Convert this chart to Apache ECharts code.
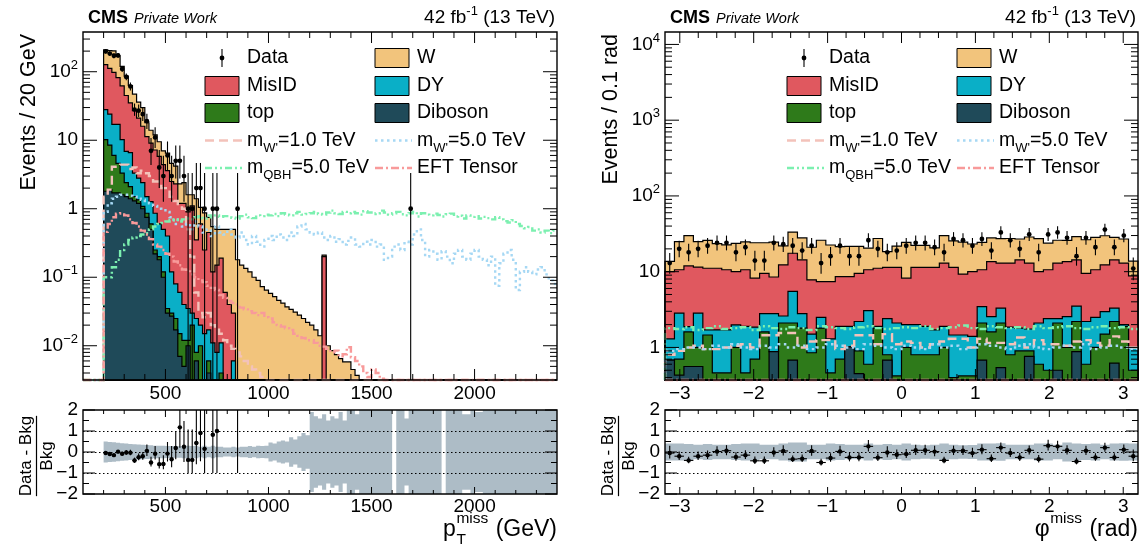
<!DOCTYPE html>
<html>
<head>
<meta charset="utf-8">
<title>Missing transverse momentum and azimuth</title>
<script src="https://cdn.jsdelivr.net/npm/echarts@6.0.0/dist/echarts.min.js"></script>
<style>
html, body { margin: 0; padding: 0; background: #ffffff; }
#chart { width: 1146px; height: 549px; }
</style>
</head>
<body>
<div id="chart"></div>
<script>
const FONT = 'Liberation Sans, Arial, Helvetica, sans-serif';

/* ---------- p_T^miss: 20 GeV bins starting at 200 GeV ---------- */
const ptBinStart = 200;
const ptBinWidth = 20;
const ptBinCount = 110;
const ptDiboson = [1.8,1.9,1.7,1.7,1.6,1.5,1.4,1.3,1.2,1.0, 0.75,0.5,0.22,0.18,0.1,0.03,0.027,0.017,0.007,0.005, 0.01,0,0.006,0,0,0.004];
const ptTop = [8.4,6.6,4.3,2.9,1.7,0.9,0.7,0.2,0.15,0.08, 0.11,0.1,0.03,0.02,0.02,0.005,0.003,0.008,0.008,0.007, 0.002,0.02,0.002,0.01,0,0.002,0,0,0.004];
const ptDY = [17.8,15.5,11,12.4,6.9,4.5,4.5,1.8,1.45,1.32, 0.64,0.67,0.61,0.4,0.38,0.365,0.09,0.055,0.045,0.028, 0.023,0.01,0.017,0.01,0.015,0.011,0.011,0.008,0.007,0, 0,0.006];
const ptMisID = [99,88,81,65,51.8,38.1,28.4,23.7,18.2,13.6, 9.8,7.83,6.34,5.2,3.9,3.2,2.38,2.22,1.14,1.16, 0.865,1.07,0.325,0.58,0.235,0.433,0.109,0.142,0.179,0.06, 0.04,0.024,0,0,0,0,0,0,0,0, 0,0,0,0,0,0,0,0,0,0, 0,0,0,0.2];
const ptW = [81,92,103,88,58,41,28,20,15,14, 6.7,4.9,4.8,3.7,2.6,2.9,2.1,1.9,1.1,1.2, 0.7,0.5,1.05,0.45,0.62,0.3,0.43,0.35,0.31,0.44, 0.46,0.47,0.18,0.15,0.135,0.12,0.1,0.09,0.073,0.065, 0.058,0.052,0.046,0.042,0.037,0.034,0.031,0.028,0.025,0.022, 0.02,0.017,0.014,0.011,0.01,0.0085,0.0074,0.0065,0.0058,0.0058, 0.0045,0.0037];
const ptData = [198,184,171,173,110,84,61,28,27,24, 19,7,11,4,3,6,3,5,5,3, 1,1,2,2,1,null,1,1,null,null, null,null,1,null,null,null,null,null,null,null,
  null,null,null,null,null,null,null,null,null,null, null,null,null,null,null,null,null,null,null,null,
  null,null,null,null,null,null,null,null,null,null, null,null,null,null,1];
const ptBkgUnc = [0.5,0.48,0.46,0.44,0.42,0.4,0.38,0.37,0.36,0.35, 0.33,0.32,0.3,0.3,0.3,0.28,0.28,0.27,0.27,0.3,
  0.3,0.28,0.3,0.25,0.3,0.25,0.3,0.25,0.25,0.22, 0.22,0.25,0.22,0.25,0.25,0.28,0.25,0.3,0.28,0.3,
  0.45,0.4,0.5,0.55,0.5,0.7,0.6,0.75,0.9,0.8, 1.9,1.7,1.6,1.8,1.5,1.7,1.6,1.9,1.5,2.5,
  2.5,1.8,2.5,2.5,2.5,2.5,2.5,2.5,2.5,2.5, 0,2.5,2.5,1.6,2.5,2.5,2.5,2.5,2.5,2.5,
  2.5,2.5,0,2.5,2.5,2.5,2.5,1.8,1.8,2.5, 1.9,1.9,2.0,2.5,2.5,2.5,2.5,2.5,2.5,2.5,
  2.5,2.5,2.5,2.5,2.5,2.5,2.5,2.5,2.5,2.5];
const ptWprime1 = [1.5,1.9,4.1,4.1,4.4,4.4,3.8,4.0,3.3,3.6, 3.3,3.0,2.5,2.5,2.0,2.0,1.5,1.3,1.1,1.0, 0.5,0.2,0.06,0.03,0.026,0.03,0.02,0.018,0.015,0.012, 0.01,0.009,0.008,0.007,0.006,0.005,0.0045,0.004,0.0035,0.003];
const ptWprime5 = [0.9,1.2,1.4,1.5,1.6,1.6,1.55,1.5,1.4,1.35, 1.3,1.2,1.1,1.0,0.95,0.9,0.75,0.6,0.7,0.55,
  0.6,0.5,0.65,0.55,0.45,0.5,0.4,0.55,0.45,0.42, 0.5,0.42,0.38,0.45,0.35,0.3,0.4,0.33,0.28,0.35,
  0.4,0.35,0.42,0.38,0.35,0.45,0.4,0.55,0.6,0.5, 0.45,0.42,0.45,0.38,0.35,0.4,0.33,0.36,0.3,0.34,
  0.38,0.3,0.28,0.33,0.3,0.35,0.28,0.3,0.18,0.2, 0.28,0.3,0.25,0.33,0.3,0.42,0.5,0.35,0.2,0.25,
  0.22,0.18,0.24,0.2,0.16,0.22,0.25,0.2,0.18,0.22, 0.25,0.2,0.18,0.15,0.2,0.075,0.16,0.22,0.25,0.18,
  0.065,0.12,0.14,0.12,0.11,0.13,0.14,0.11,0.09,0.08];
const ptQBH = [0.1,0.1,0.14,0.18,0.25,0.3,0.35,0.38,0.4,0.42, 0.44,0.5,0.55,0.6,0.62,0.65,0.68,0.7,0.65,0.7,
  0.72,0.7,0.75,0.78,0.72,0.8,0.75,0.8,0.76,0.78, 0.78,0.74,0.72,0.78,0.82,0.75,0.73,0.8,0.78,0.82,
  0.8,0.84,0.78,0.86,0.82,0.8,0.86,0.9,0.82,0.84, 0.86,0.9,0.84,0.82,0.88,0.94,0.86,0.84,0.9,0.86,
  0.9,0.86,0.82,0.92,0.88,0.84,0.86,0.94,0.88,0.82, 0.86,0.9,0.83,0.8,0.86,0.9,0.77,0.86,0.82,0.8,
  0.85,0.81,0.77,0.83,0.85,0.77,0.79,0.72,0.8,0.76, 0.78,0.72,0.76,0.73,0.7,0.75,0.7,0.66,0.63,0.68,
  0.6,0.56,0.52,0.54,0.48,0.5,0.45,0.48,0.44,0.48];
const ptEFT = [0.46,0.6,0.75,0.85,0.86,0.8,0.7,0.62,0.55,0.48, 0.42,0.36,0.3,0.28,0.25,0.22,0.2,0.17,0.15,0.13,
  0.128,0.11,0.1,0.09,0.085,0.075,0.07,0.065,0.055,0.05, 0.045,0.042,0.04,0.036,0.034,0.032,0.03,0.028,0.03,0.026,
  0.025,0.022,0.02,0.019,0.018,0.017,0.015,0.014,0.013,0.012, 0.012,0.011,0.01,0.0097,0.009,0.008,0.0085,0.007,0.0075,0.0095,
  0.0068,0.006,0.005,0.004,0.0035,0.0045,0.004,0.0033];
const ptTickLabels = [500, 1000, 1500, 2000];

/* ---------- phi^miss: 50 bins over [-3.2, 3.2] ---------- */
const phiBinStart = -3.2;
const phiBinWidth = 0.128;
const phiBinCount = 50;
const phiDiboson = [0.68,0.43,0.56,0.56,0.3,0.3,0.2,0.3,0.2,0.3, 0.3,0.88,0.3,0.68,0.2,0.3,0.2,0.3,0.2,1.02,
  0.45,0.2,0.3,0.68,0.2,0.3,0.2,0.3,0.2,0.3, 0.2,0.3,0.2,0.68,0.3,0.54,0.2,0.3,0.76,0.3, 0.2,0.5,0.3,0.88,0.2,0.3,0.2,0.62,0.3,0.2];
const phiTop = [0,0.27,1.04,0.44,1.16,0.16,0.26,0.7,0.26,0.4, 1.3,0,1.8,1.42,1.6,0.55,1.6,0.16,0.5,0,
  0.45,0.4,1.5,0.12,0.22,0.7,0.6,0.5,0.6,0.7, 0.2,0.12,0.22,1.42,1.3,1.56,0.6,0.6,0.14,0.3, 0.3,1.6,0.7,1.32,0.4,0.7,1.3,1.58,1.6,0.3];
const phiDY = [0.62,2.13,0.28,1.83,0.24,1.24,1.24,0.98,1.44,1.15, 1.2,1.92,0.5,3.4,1.0,0.65,0.7,0.84,1.2,0.88,
  1.3,2.46,0.1,1.6,1.68,1.0,1.2,1.1,0.9,0.9, 1.06,1.04,0.98,1.36,0.95,1.2,1.05,0.9,0.85,1.5, 1.9,0.3,1.55,1.3,1.6,1.5,1.47,1.1,0.1,0.5];
const phiMisID = [8.7,7.77,10.02,8.67,9.4,9.4,8.9,8.02,8.7,6.35, 6.7,5.7,9.7,12.0,11.5,6.3,4.9,6.1,6.7,6.7,
  7.3,7.54,9.2,9.0,9.3,6.2,9.4,9.5,9.7,11.1, 9.94,7.84,8.6,7.14,11.05,9.7,11.15,12.5,11.25,7.9, 8.2,10.6,11.05,10.8,7.3,8.1,9.33,11.0,11.0,7.8];
const phiW = [3.7,14.4,18.1,13.5,14.8,12.4,12.0,13.7,14.1,15.9, 14.6,16.0,9.6,15.8,13.6,13.2,18.6,15.1,12.8,13.0,
  12.1,9.9,16.3,7.0,10.4,16.2,10.8,10.8,9.2,17.0, 14.1,15.2,13.2,13.7,14.3,14.3,14.4,12.7,15.7,17.3, 13.2,13.0,12.3,14.8,16.9,17.8,17.5,14.1,14.0,4.95];
const phiData = [13,20,18,20,22,24,24,18,21,14, 14,24,23,22,19,22,13,16,22,16, 16,26,20,18,19,22,24,24,21,18,
  27,26,22,27,19,33,26,20,31,18, 31,33,28,16,28,21,36,21,30,11];
const phiBkgUnc = [0.4,0.4,0.38,0.35,0.38,0.35,0.35,0.38,0.4,0.4, 0.35,0.35,0.4,0.45,0.45,0.35,0.35,0.4,0.38,0.35,
  0.35,0.4,0.35,0.38,0.35,0.4,0.35,0.32,0.35,0.4, 0.35,0.32,0.33,0.4,0.4,0.42,0.35,0.35,0.35,0.4, 0.4,0.35,0.45,0.4,0.38,0.4,0.35,0.4,0.42,0.4];
const phiWprime1 = [0.8,0.9,1.0,1.05,0.95,0.95,1.0,1.05,1.1,1.0, 1.45,1.45,1.55,1.55,1.0,1.2,1.25,1.25,0.95,1.05,
  1.45,1.45,1.1,1.5,1.1,1.2,1.15,1.0,1.1,1.2, 1.3,1.3,1.0,1.3,1.15,1.15,1.1,1.35,1.0,1.25, 1.1,1.1,1.05,1.2,1.25,1.15,1.05,1.4,1.2,1.0];
const phiWprime5 = [0.9,0.95,1.0,1.0,0.95,1.05,1.0,1.1,1.0,0.95, 1.05,1.0,1.1,1.0,1.05,0.95,1.0,1.1,1.05,1.0,
  0.95,1.1,1.05,1.0,0.95,1.05,1.0,0.95,1.1,1.0, 1.05,0.95,1.0,1.1,1.05,1.0,0.95,1.05,1.1,1.0, 0.95,1.0,1.05,1.0,1.1,0.95,1.0,1.05,1.0,0.95];
const phiQBH = [1.8,1.75,1.85,1.7,1.8,1.9,1.75,1.8,1.85,1.7, 1.9,1.8,1.75,1.85,1.8,1.7,1.9,1.85,1.8,1.75,
  1.85,1.9,1.8,1.75,1.8,1.85,1.8,1.9,1.75,1.8, 1.85,1.95,1.8,1.75,1.9,1.85,1.8,1.85,1.75,1.9, 1.8,1.85,1.9,1.8,1.75,1.85,1.9,1.8,1.85,1.75];
const phiEFT = [0.3,0.28,0.32,0.3,0.27,0.31,0.29,0.3,0.33,0.28, 0.3,0.29,0.31,0.27,0.3,0.32,0.28,0.3,0.29,0.31,
  0.3,0.28,0.32,0.3,0.29,0.31,0.27,0.3,0.33,0.29, 0.3,0.28,0.31,0.3,0.29,0.32,0.28,0.3,0.31,0.29, 0.3,0.27,0.32,0.3,0.29,0.31,0.28,0.3,0.3,0.29];
const phiTickLabels = [-3, -2, -1, 0, 1, 2, 3];

const ratioTickLabels = [-2, -1, 0, 1, 2];

const COLORS = {
  W: '#f2c47c', MisID: '#e0585f', DY: '#0aafc7', top: '#2e7a1a', Diboson: '#1f4a59',
  band: '#adbcc6', wp1: '#f3c2ba', wp5: '#a6d8f4', qbh: '#7cf0b0', eft: '#f89a9a'
};
const DASHES = { wp1: [9, 5], wp5: [2.5, 3.5], qbh: [7, 3, 2, 3, 2, 3], eft: [8, 3, 2, 3] };

/* ---------- helpers ---------- */
const clamp = (v, lo, hi) => Math.min(Math.max(v, lo), hi);
function steps(from, to, step) {
  const out = [];
  for (let k = 0; from + k * step <= to + 1e-9; k++) out.push(+(from + k * step).toFixed(6));
  return out;
}
function logMinorTicks(lo, hi) {
  const out = [];
  for (let e = Math.floor(Math.log10(lo)); e <= Math.ceil(Math.log10(hi)); e++) {
    for (let m = 2; m <= 9; m++) {
      const v = m * Math.pow(10, e);
      if (v > lo && v < hi) out.push(v);
    }
  }
  return out;
}
function stackLevels(layers, n) {
  const run = new Array(n).fill(0);
  return layers.map(l => { for (let i = 0; i < n; i++) run[i] += (l[i] || 0); return run.slice(); });
}
const minusSign = v => (v < 0 ? '\u2212' + Math.abs(v) : String(v));

let zNext = 2;

/* filled histogram drawn from the axis floor up to its stacked level */
function histFill(g, P, levels, color) {
  return {
    type: 'custom', xAxisIndex: g, yAxisIndex: g, silent: true, animation: false, z: zNext++,
    data: [[P.xMin, P.yRef]],
    renderItem(params, api) {
      const pts = [api.coord([P.start, P.yMin])];
      for (let i = 0; i < P.n; i++) {
        const v = clamp(levels[i], P.yMin, P.yMax);
        pts.push(api.coord([P.start + i * P.bw, v]), api.coord([P.start + (i + 1) * P.bw, v]));
      }
      pts.push(api.coord([P.start + P.n * P.bw, P.yMin]));
      return { type: 'polygon', shape: { points: pts }, style: { fill: color, stroke: '#000', lineWidth: 1.2 } };
    }
  };
}

/* unfilled step line for a signal hypothesis */
function histLine(g, P, values, color, dash) {
  return {
    type: 'custom', xAxisIndex: g, yAxisIndex: g, silent: true, animation: false, z: zNext++,
    data: [[P.xMin, P.yRef]],
    renderItem(params, api) {
      const pts = [api.coord([P.xMin, P.yMin]), api.coord([P.start, P.yMin])];
      for (let i = 0; i < P.n; i++) {
        const v = clamp(values[i] || 0, P.yMin, P.yMax);
        pts.push(api.coord([P.start + i * P.bw, v]), api.coord([P.start + (i + 1) * P.bw, v]));
      }
      return { type: 'polyline', shape: { points: pts }, style: { fill: 'none', stroke: color, lineWidth: 2.4, lineDash: dash } };
    }
  };
}

/* observed counts with Poisson-style error bars */
function dataMarkers(g, P) {
  const items = [];
  P.data.forEach((n, i) => { if (n != null) items.push([P.start + (i + 0.5) * P.bw, n]); });
  return {
    type: 'custom', xAxisIndex: g, yAxisIndex: g, silent: true, animation: false, z: zNext++,
    data: items,
    renderItem(params, api) {
      const x = api.value(0), n = api.value(1);
      const lo = clamp(n - Math.sqrt(n), P.yMin, P.yMax);
      const hi = clamp(n + Math.sqrt(n + 0.75) + 1, P.yMin, P.yMax);
      const c = api.coord([x, n]), a = api.coord([x, lo]), b = api.coord([x, hi]);
      return { type: 'group', children: [
        { type: 'line', shape: { x1: c[0], y1: a[1], x2: c[0], y2: b[1] }, style: { stroke: '#000', lineWidth: 1.1 } },
        { type: 'circle', shape: { cx: c[0], cy: c[1], r: 2.4 }, style: { fill: '#000' } }
      ] };
    }
  };
}

/* relative background uncertainty band in the ratio pad */
function uncBand(g, P) {
  return {
    type: 'custom', xAxisIndex: g, yAxisIndex: g, silent: true, animation: false, z: zNext++,
    data: [[P.xMin, 0]],
    renderItem(params, api) {
      const up = [], dn = [];
      for (let i = 0; i < P.n; i++) {
        const u = clamp(P.unc[i] || 0, 0, 2);
        up.push(api.coord([P.start + i * P.bw, u]), api.coord([P.start + (i + 1) * P.bw, u]));
        dn.push(api.coord([P.start + i * P.bw, -u]), api.coord([P.start + (i + 1) * P.bw, -u]));
      }
      return { type: 'polygon', shape: { points: up.concat(dn.reverse()) }, style: { fill: COLORS.band } };
    }
  };
}

function ratioGuides(g, P) {
  return {
    type: 'custom', xAxisIndex: g, yAxisIndex: g, silent: true, animation: false, z: zNext++,
    data: [[P.xMin, 0]],
    renderItem(params, api) {
      const cs = params.coordSys;
      return { type: 'group', children: [1, 0, -1].map(v => {
        const y = Math.round(api.coord([P.xMin, v])[1]) + 0.5;
        return { type: 'line', shape: { x1: cs.x, y1: y, x2: cs.x + cs.width, y2: y }, style: { stroke: '#000', lineWidth: 1, lineDash: [1.5, 2.5] } };
      }) };
    }
  };
}

/* (Data - Bkg) / Bkg with the data error scaled by the background */
function ratioMarkers(g, P, total) {
  const items = [];
  P.data.forEach((n, i) => {
    const b = total[i];
    if (n == null || !b) return;
    items.push([P.start + (i + 0.5) * P.bw, n / b - 1, (n - Math.sqrt(n)) / b - 1, (n + Math.sqrt(n + 0.75) + 1) / b - 1]);
  });
  return {
    type: 'custom', xAxisIndex: g, yAxisIndex: g, silent: true, animation: false, z: zNext++,
    data: items,
    renderItem(params, api) {
      const x = api.value(0), r = api.value(1);
      const lo = clamp(api.value(2), -2, 2), hi = clamp(api.value(3), -2, 2);
      const a = api.coord([x, lo]), b = api.coord([x, hi]);
      const kids = [{ type: 'line', shape: { x1: a[0], y1: a[1], x2: b[0], y2: b[1] }, style: { stroke: '#000', lineWidth: 1.1 } }];
      if (r >= -2 && r <= 2) {
        const c = api.coord([x, r]);
        const l = api.coord([x - P.bw / 2, r]), rr = api.coord([x + P.bw / 2, r]);
        kids.push({ type: 'line', shape: { x1: l[0], y1: c[1], x2: rr[0], y2: c[1] }, style: { stroke: '#000', lineWidth: 1.1 } });
        kids.push({ type: 'circle', shape: { cx: c[0], cy: c[1], r: 2.2 }, style: { fill: '#000' } });
      }
      return { type: 'group', children: kids };
    }
  };
}

/* frame with inward ticks on all four sides */
function frame(g, F) {
  return {
    type: 'custom', xAxisIndex: g, yAxisIndex: g, silent: true, animation: false, z: 60,
    data: [[F.xRef, F.yRef]],
    renderItem(params, api) {
      const cs = params.coordSys;
      const L = cs.x, T = cs.y, R = cs.x + cs.width, B = cs.y + cs.height;
      const kids = [];
      const seg = (x1, y1, x2, y2) => kids.push({ type: 'line', shape: { x1, y1, x2, y2 }, style: { stroke: '#000', lineWidth: 1 } });
      const xt = (vals, len) => vals.forEach(v => { const x = api.coord([v, F.yRef])[0]; seg(x, B, x, B - len); seg(x, T, x, T + len); });
      const yt = (vals, len) => vals.forEach(v => { const y = api.coord([F.xRef, v])[1]; seg(L, y, L + len, y); seg(R, y, R - len, y); });
      xt(F.xMajor, F.xMajLen); xt(F.xMinor, F.xMinLen);
      yt(F.yMajor, F.yMajLen); yt(F.yMinor, F.yMinLen);
      kids.push({ type: 'rect', shape: { x: L, y: T, width: cs.width, height: cs.height }, style: { fill: 'none', stroke: '#000', lineWidth: 1.4 } });
      return { type: 'group', children: kids };
    }
  };
}

/* ---------- text helpers ---------- */
const measureCtx = document.createElement('canvas').getContext('2d');
function measure(str, size, weight, style) {
  measureCtx.font = (style || 'normal') + ' ' + (weight || 'normal') + ' ' + size + 'px ' + FONT;
  return measureCtx.measureText(str).width;
}
function label(x, y, text, size, styleExtra, elExtra) {
  return Object.assign({
    type: 'text', x, y, silent: true, z: 100,
    style: Object.assign({ text, fill: '#000', fontSize: size, fontFamily: FONT, align: 'left', verticalAlign: 'middle', textAlign: 'left', textVerticalAlign: 'middle' }, styleExtra || {})
  }, elExtra || {});
}
const subRich = size => ({
  b: { fontSize: size, fontFamily: FONT, fill: '#000', color: '#000', lineHeight: 28, verticalAlign: 'middle' },
  u: { fontSize: 13, fontFamily: FONT, fill: '#000', color: '#000', lineHeight: 28, verticalAlign: 'bottom' }
});
const supRich = size => ({
  b: { fontSize: size, fontFamily: FONT, fill: '#000', color: '#000', lineHeight: 26, verticalAlign: 'middle' },
  s: { fontSize: 13, fontFamily: FONT, fill: '#000', color: '#000', lineHeight: 26, verticalAlign: 'top' }
});

function decorations(P) {
  const L = P.left, R = P.left + P.width;
  const els = [];
  // header
  els.push(label(L + 5, 18, 'CMS', 18, { fontWeight: 'bold' }));
  els.push(label(L + 11 + measure('CMS', 18, 'bold'), 19, 'Private Work', 14.5, { fontStyle: 'italic' }));
  els.push(label(R - 2, 18, '{b|42 fb}{s|-1}{b| (13 TeV)}', 19, { align: 'right', textAlign: 'right', rich: supRich(19) }));

  // legend
  const rows = [58, 86, 113, 140.5, 168];
  const c1 = L + 122, c2 = L + 292, t1 = L + 164, t2 = L + 334;
  const box = (x, y, color) => els.push({ type: 'rect', z: 100, silent: true, shape: { x: x, y: y - 9.5, width: 34, height: 19 }, style: { fill: color, stroke: '#000', lineWidth: 1 } });
  const sample = (x, y, color, dash) => els.push({ type: 'line', z: 100, silent: true, shape: { x1: x, y1: y, x2: x + 37, y2: y }, style: { stroke: color, lineWidth: 2.4, lineDash: dash } });
  els.push({ type: 'line', z: 100, silent: true, shape: { x1: c1 + 17, y1: rows[0] - 9, x2: c1 + 17, y2: rows[0] + 9 }, style: { stroke: '#000', lineWidth: 1.1 } });
  els.push({ type: 'circle', z: 100, silent: true, shape: { cx: c1 + 17, cy: rows[0], r: 2.4 }, style: { fill: '#000' } });
  els.push(label(t1, rows[0], 'Data', 19.5));
  box(c2, rows[0], COLORS.W); els.push(label(t2, rows[0], 'W', 19.5));
  box(c1, rows[1], COLORS.MisID); els.push(label(t1, rows[1], 'MisID', 19.5));
  box(c2, rows[1], COLORS.DY); els.push(label(t2, rows[1], 'DY', 19.5));
  box(c1, rows[2], COLORS.top); els.push(label(t1, rows[2], 'top', 19.5));
  box(c2, rows[2], COLORS.Diboson); els.push(label(t2, rows[2], 'Diboson', 19.5));
  sample(c1, rows[3], COLORS.wp1, DASHES.wp1);
  els.push(label(t1, rows[3], "{b|m}{u|W'}{b|=1.0 TeV}", 19.5, { rich: subRich(19.5) }));
  sample(c2, rows[3], COLORS.wp5, DASHES.wp5);
  els.push(label(t2, rows[3], "{b|m}{u|W'}{b|=5.0 TeV}", 19.5, { rich: subRich(19.5) }));
  sample(c1, rows[4], COLORS.qbh, DASHES.qbh);
  els.push(label(t1, rows[4], '{b|m}{u|QBH}{b|=5.0 TeV}', 19.5, { rich: subRich(19.5) }));
  sample(c2, rows[4], COLORS.eft, DASHES.eft);
  els.push(label(t2, rows[4], 'EFT Tensor', 19.5));

  // y titles
  els.push(label(L - 54, 34, P.yTitle, 21.5, { align: 'right', textAlign: 'right' }, { rotation: Math.PI / 2 }));
  const fy = 456, fx = L - 57, numW = measure('Data - Bkg', 17);
  els.push(label(fx, fy, 'Data - Bkg', 17, { align: 'center', textAlign: 'center' }, { rotation: Math.PI / 2 }));
  els.push({ type: 'line', z: 100, silent: true, shape: { x1: fx + 10.5, y1: fy - numW / 2, x2: fx + 10.5, y2: fy + numW / 2 }, style: { stroke: '#000', lineWidth: 1.2 } });
  els.push(label(fx + 21, fy, 'Bkg', 17, { align: 'center', textAlign: 'center' }, { rotation: Math.PI / 2 }));

  // x title: symbol with stacked super/subscript, then unit
  const ty = 530, big = 23, small = 15.5;
  const wUnit = measure(P.xUnit, big);
  const wScript = Math.max(measure(P.xSup, small), P.xSub ? measure(P.xSub, small) : 0);
  const xUnit = R - wUnit, xScript = xUnit - wScript - 1, xBase = xScript - measure(P.xBase, big) - 0.5;
  els.push(label(xBase, ty, P.xBase, big));
  els.push(label(xScript, ty - 11, P.xSup, small));
  if (P.xSub) els.push(label(xScript, ty + 10, P.xSub, small));
  els.push(label(xUnit, ty, P.xUnit, big));
  return els;
}

/* ---------- panel descriptions ---------- */
const panels = [
  {
    left: 83, width: 474, gMain: 0, gRatio: 1,
    xMin: 100, xMax: 2400, start: ptBinStart, bw: ptBinWidth, n: ptBinCount,
    yMin: Math.pow(10, -2.5), yMax: Math.pow(10, 2.58), yRef: 1,
    layers: [ptDiboson, ptTop, ptDY, ptMisID, ptW], data: ptData, unc: ptBkgUnc,
    signals: [[ptWprime1, 'wp1'], [ptWprime5, 'wp5'], [ptQBH, 'qbh'], [ptEFT, 'eft']],
    xLabels: ptTickLabels, xMinor: steps(200, 2300, 100).filter(v => v % 500 !== 0),
    yLabels: [0.01, 0.1, 1, 10, 100],
    yTitle: 'Events / 20 GeV', xBase: 'p', xSup: 'miss', xSub: 'T', xUnit: ' (GeV)'
  },
  {
    left: 665, width: 473, gMain: 2, gRatio: 3,
    xMin: -3.2, xMax: 3.2, start: phiBinStart, bw: phiBinWidth, n: phiBinCount,
    yMin: Math.pow(10, -0.43), yMax: Math.pow(10, 4.164), yRef: 1,
    layers: [phiDiboson, phiTop, phiDY, phiMisID, phiW], data: phiData, unc: phiBkgUnc,
    signals: [[phiWprime1, 'wp1'], [phiWprime5, 'wp5'], [phiQBH, 'qbh'], [phiEFT, 'eft']],
    xLabels: phiTickLabels, xMinor: steps(-3, 3, 0.25).filter(v => Math.abs(v - Math.round(v)) > 1e-6),
    yLabels: [1, 10, 100, 1000, 10000],
    yTitle: 'Events / 0.1 rad', xBase: '\u03c6', xSup: 'miss', xSub: null, xUnit: ' (rad)'
  }
];

const grids = [], xAxes = [], yAxes = [], series = [], graphics = [];
const layerColors = [COLORS.Diboson, COLORS.top, COLORS.DY, COLORS.MisID, COLORS.W];

const logLabel = v => {
  const e = Math.round(Math.log10(v));
  if (e === 0) return '{b|1}';
  if (e === 1) return '{b|10}';
  return '{b|10}{s|' + (e < 0 ? '\u2212' : '') + Math.abs(e) + '}';
};

panels.forEach(P => {
  grids[P.gMain] = { left: P.left, top: 32, width: P.width, height: 348, show: false };
  grids[P.gRatio] = { left: P.left, top: 410, width: P.width, height: 84, show: false };
  const xAxisFor = (g, margin) => ({
    type: 'value', gridIndex: g, min: P.xMin, max: P.xMax,
    axisLine: { show: false }, axisTick: { show: false }, splitLine: { show: false },
    axisLabel: { customValues: P.xLabels, formatter: minusSign, color: '#000', fontSize: 19, fontFamily: FONT, margin }
  });
  xAxes[P.gMain] = xAxisFor(P.gMain, 4);
  xAxes[P.gRatio] = xAxisFor(P.gRatio, 3);
  yAxes[P.gMain] = {
    type: 'log', logBase: 10, gridIndex: P.gMain, min: P.yMin, max: P.yMax,
    axisLine: { show: false }, axisTick: { show: false }, splitLine: { show: false },
    axisLabel: { customValues: P.yLabels, formatter: logLabel, margin: 5, rich: supRich(19), color: '#000', fontSize: 19, fontFamily: FONT }
  };
  yAxes[P.gRatio] = {
    type: 'value', gridIndex: P.gRatio, min: -2, max: 2,
    axisLine: { show: false }, axisTick: { show: false }, splitLine: { show: false },
    axisLabel: { customValues: ratioTickLabels, formatter: minusSign, margin: 5, color: '#000', fontSize: 19, fontFamily: FONT }
  };

  const levels = stackLevels(P.layers, P.n);
  for (let k = levels.length - 1; k >= 0; k--) series.push(histFill(P.gMain, P, levels[k], layerColors[k]));
  P.signals.forEach(([vals, key]) => series.push(histLine(P.gMain, P, vals, COLORS[key], DASHES[key])));
  series.push(dataMarkers(P.gMain, P));

  const R = Object.assign({}, P, { yMin: -2, yMax: 2 });
  series.push(uncBand(P.gRatio, R));
  series.push(ratioGuides(P.gRatio, R));
  series.push(ratioMarkers(P.gRatio, R, levels[levels.length - 1]));

  series.push(frame(P.gMain, {
    xRef: P.xMin, yRef: P.yRef, xMajor: P.xLabels, xMinor: P.xMinor,
    yMajor: P.yLabels, yMinor: logMinorTicks(P.yMin, P.yMax),
    xMajLen: 11, xMinLen: 6, yMajLen: 14, yMinLen: 7
  }));
  series.push(frame(P.gRatio, {
    xRef: P.xMin, yRef: 0, xMajor: P.xLabels, xMinor: P.xMinor,
    yMajor: ratioTickLabels, yMinor: steps(-1.5, 1.5, 0.5).filter(v => v % 1 !== 0),
    xMajLen: 7, xMinLen: 4, yMajLen: 12, yMinLen: 6
  }));

  decorations(P).forEach(e => graphics.push(e));
});

const chart = echarts.init(document.getElementById('chart'), null, { renderer: 'canvas' });
chart.setOption({
  animation: false,
  backgroundColor: '#ffffff',
  textStyle: { fontFamily: FONT },
  grid: grids,
  xAxis: xAxes,
  yAxis: yAxes,
  series: series,
  graphic: { elements: graphics }
});
</script>
</body>
</html>
